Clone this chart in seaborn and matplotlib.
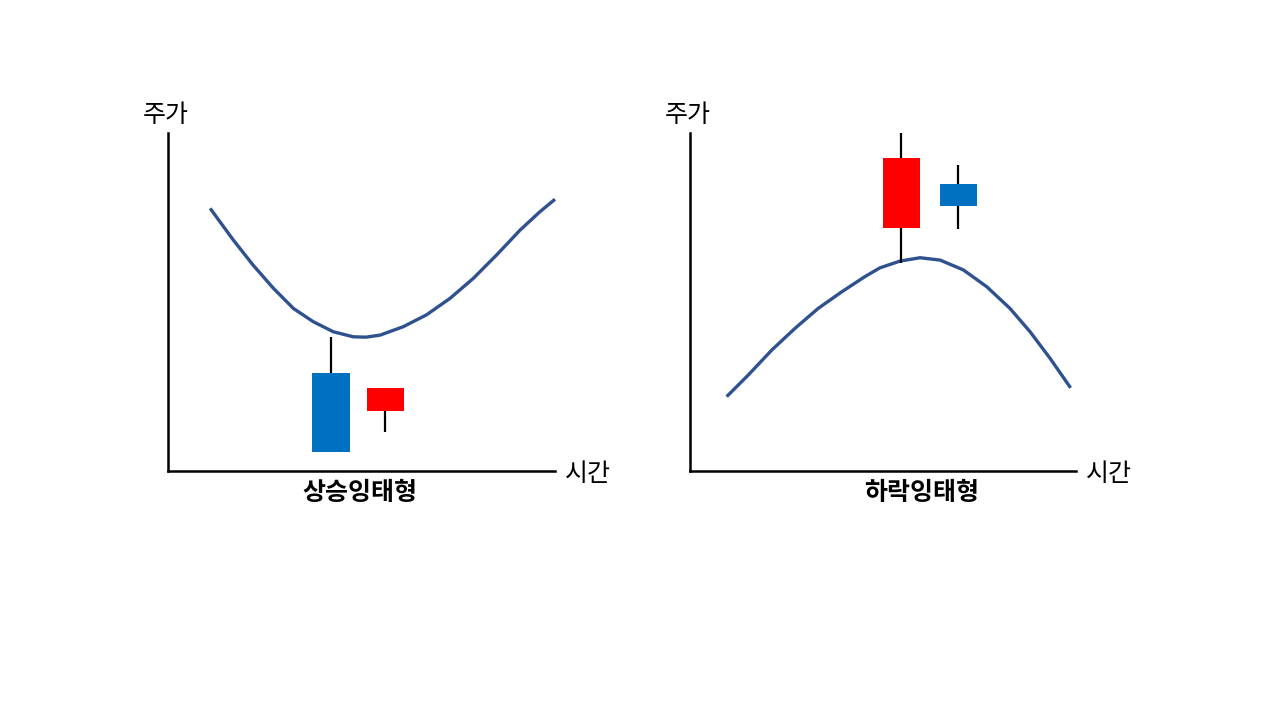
import matplotlib
matplotlib.use("Agg")
import matplotlib.pyplot as plt
import pandas as pd
import seaborn as sns

# trend curves (time, price)
up_time = [10.9, 16.9, 22.0, 27.2, 32.4, 37.5, 42.7, 47.9, 51.2, 54.8,
           60.8, 66.8, 72.9, 78.9, 84.9, 91.0, 96.1, 100.0]
up_price = [77.7, 68.3, 60.9, 54.1, 48.1, 44.2, 41.2, 39.7, 39.6, 40.2,
            42.7, 46.2, 51.1, 57.0, 63.9, 71.3, 76.7, 80.4]

down_time = [9.5, 15.1, 21.2, 27.2, 33.2, 39.3, 45.3, 49.2, 54.4, 59.6,
             64.8, 70.8, 76.9, 82.9, 88.1, 93.3, 98.6]
down_price = [22.0, 28.4, 35.8, 42.2, 48.1, 53.0, 57.5, 60.1, 62.1, 63.1,
              62.4, 59.5, 54.5, 48.1, 41.2, 33.3, 24.6]

# candles: center, open, close, high, low
up_candle_t = [42.1, 56.1]
up_open = [29.0, 17.8]
up_close = [5.7, 24.6]
up_high = [39.6, 24.6]
up_low = [5.7, 11.6]

down_candle_t = [54.7, 69.5]
down_open = [72.0, 84.8]
down_close = [92.6, 78.5]
down_high = [99.9, 90.4]
down_low = [61.4, 71.5]

RED = "#FF0000"
BLUE = "#0070C0"
CURVE = "#2F528F"

sns.set_theme(style="white")
plt.rcParams["font.family"] = ["Noto Sans CJK KR", "DejaVu Sans"]


def draw_panel(ax, t, p, ct, o, c, h, l, title, title_x):
    df = pd.DataFrame({"time": t, "price": p})
    sns.lineplot(data=df, x="time", y="price", ax=ax, color=CURVE,
                 linewidth=2.4, clip_on=False, solid_joinstyle="round",
                 solid_capstyle="butt")

    colors = [RED if cc > oo else BLUE for oo, cc in zip(o, c)]
    ax.vlines(ct, l, h, color="black", linewidth=1.6, zorder=2)
    ax.bar(ct, [cc - oo for oo, cc in zip(o, c)], bottom=o, width=9.6,
           color=colors, linewidth=0, zorder=3)

    ax.set_xlim(0, 100)
    ax.set_ylim(0, 100)
    ax.set_xticks([])
    ax.set_yticks([])
    ax.set_xlabel("")
    ax.set_ylabel("")
    sns.despine(ax=ax)
    for s in ["left", "bottom"]:
        ax.spines[s].set_color("black")
        ax.spines[s].set_linewidth(1.8)

    ax.text(-0.006, 1.052, "주가", transform=ax.transAxes, ha="center",
            va="center", fontsize=18, color="black")
    ax.text(1.085, -0.009, "시간", transform=ax.transAxes, ha="center",
            va="center", fontsize=18, color="black")
    ax.text(title_x, -0.065, title, transform=ax.transAxes, ha="center",
            va="center", fontsize=18, fontweight="bold", color="black")


fig = plt.figure(figsize=(12.8, 7.2), dpi=100)
ax1 = fig.add_axes([168 / 1280, 1 - 471 / 720, 387 / 1280, 338 / 720])
ax2 = fig.add_axes([690 / 1280, 1 - 471 / 720, 386 / 1280, 338 / 720])

draw_panel(ax1, up_time, up_price, up_candle_t, up_open, up_close,
           up_high, up_low, "상승잉태형", 0.496)
draw_panel(ax2, down_time, down_price, down_candle_t, down_open, down_close,
           down_high, down_low, "하락잉태형", 0.601)

fig.savefig("out.png", dpi=100)
